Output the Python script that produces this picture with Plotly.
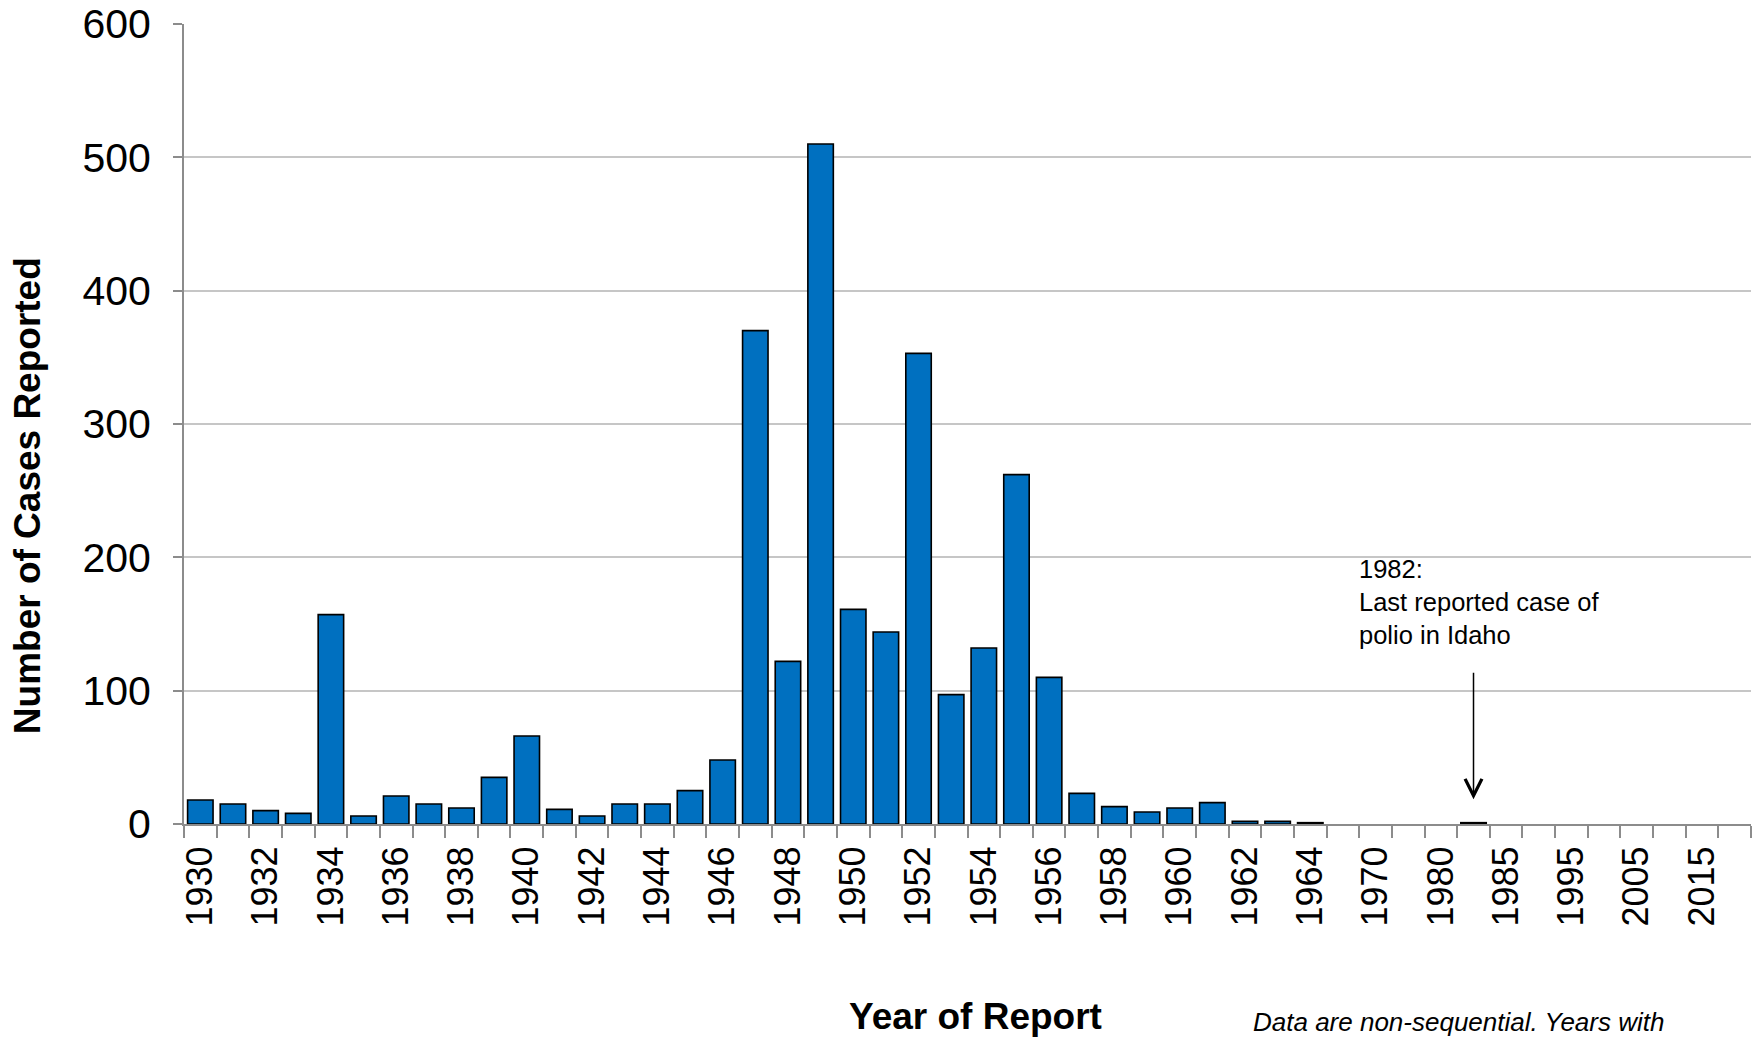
import plotly.graph_objects as go

years = [str(y) for y in range(1930, 1965)] + ["1965", "1970", "1975", "1980", "1982",
                                              "1985", "1990", "1995", "2000", "2005",
                                              "2010", "2015", "2016"]
cases = [18, 15, 10, 8, 157, 6, 21, 15, 12, 35,
         66, 11, 6, 15, 15, 25, 48, 370, 122, 510,
         161, 144, 353, 97, 132, 262, 110, 23, 13, 9,
         12, 16, 2, 2, 1,
         0, 0, 0, 0, 1, 0, 0, 0, 0, 0, 0, 0, 0]
tick_labels = [y if i % 2 == 0 else "" for i, y in enumerate(years)]
last_case_year = "1982"

FONT = "Liberation Sans, Arial, sans-serif"

fig = go.Figure()
fig.add_trace(go.Bar(
    x=years, y=cases,
    marker=dict(color="#0070C0",
                line=dict(color="#000000", width=[1.6 if v > 0 else 0 for v in cases])),
))

fig.update_layout(
    width=1759, height=1037,
    margin=dict(l=184, r=8, t=24, b=213),
    paper_bgcolor="white", plot_bgcolor="white",
    bargap=0.22,
    showlegend=False,
    font=dict(family=FONT, color="#000000"),
)
fig.update_xaxes(
    type="category",
    tickmode="array", tickvals=years, ticktext=tick_labels,
    tickson="boundaries",
    ticks="outside", ticklen=12, tickwidth=2, tickcolor="#8c8c8c",
    tickangle=-90,
    tickfont=dict(size=36, family=FONT, color="#000000"),
    ticklabelstandoff=6,
    showline=True, linecolor="#8c8c8c", linewidth=2,
    showgrid=False,
    range=[-0.5, len(years) - 0.5],
    automargin=False,
)
fig.update_yaxes(
    range=[0, 600], dtick=100,
    ticks="outside", ticklen=9, tickwidth=2, tickcolor="#8c8c8c",
    tickfont=dict(size=41, family=FONT, color="#000000"),
    ticklabelstandoff=14,
    ticklabeloverflow="allow",
    showline=True, linecolor="#8c8c8c", linewidth=2,
    showgrid=True, gridcolor="#c6c6c6", gridwidth=1.5,
    zeroline=False,
    automargin=False,
)

fig.add_annotation(
    text="<b>Number of Cases Reported</b>", textangle=-90,
    xref="paper", yref="paper", x=-0.1002, y=0.411,
    xanchor="center", yanchor="middle", showarrow=False,
    font=dict(size=37, family=FONT, color="#000000"),
)
fig.add_annotation(
    text="<b>Year of Report</b>",
    xref="paper", yref="paper", x=0.5054, y=-0.241,
    xanchor="center", yanchor="middle", showarrow=False,
    font=dict(size=37, family=FONT, color="#000000"),
)
fig.add_annotation(
    text="<i>Data are non-sequential. Years with</i>",
    xref="paper", yref="paper", x=0.681, y=-0.247,
    xanchor="left", yanchor="middle", showarrow=False,
    font=dict(size=26, family=FONT, color="#000000"),
)
fig.add_annotation(
    text="1982:<br>Last reported case of<br>polio in Idaho",
    xref="paper", yref="paper", x=0.7486, y=0.339,
    xanchor="left", yanchor="top", align="left", showarrow=False,
    font=dict(size=25.5, family=FONT, color="#000000"),
)
idx = years.index(last_case_year)
fig.add_annotation(
    x=idx, y=18.5, xref="x", yref="y",
    ax=0, ay=-128,
    text="", showarrow=True,
    arrowhead=5, arrowsize=2.2, arrowwidth=1.5, arrowcolor="#000000",
)

fig.write_html("out.html", config={"displayModeBar": False},
               post_script="document.body.style.margin='0';document.body.style.overflow='hidden';")
